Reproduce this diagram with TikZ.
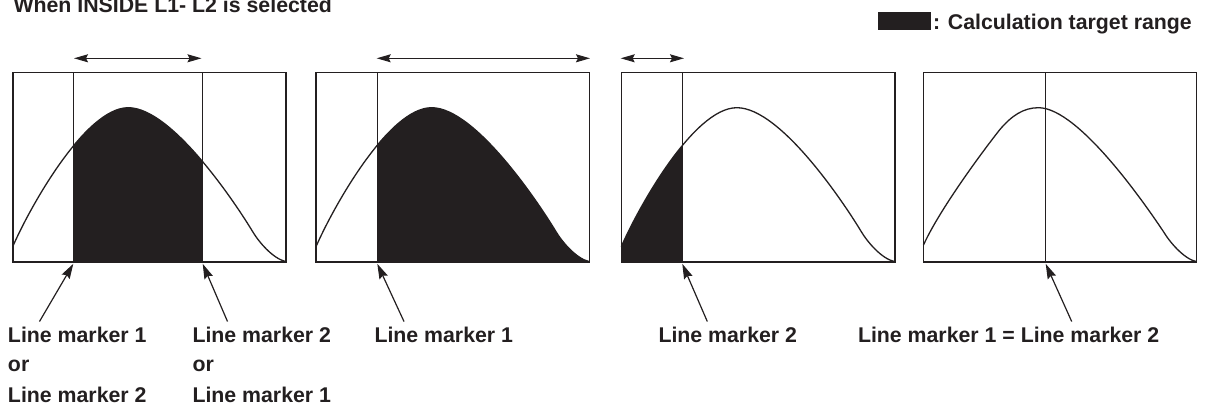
\documentclass[tikz,border=0pt]{standalone}
\usepackage{fontspec}
\setmainfont{Liberation Sans}
\usetikzlibrary{arrows.meta}
\definecolor{ink}{RGB}{35,31,32}
\begin{document}
\begin{tikzpicture}[x=1pt,y=-1pt,
  every node/.style={inner sep=0pt, outer sep=0pt, text=ink, font=\fontsize{21.3}{25}\selectfont\bfseries},
  lbl/.style={anchor=base west},
  frame/.style={draw=ink, line width=1.6pt},
  mline/.style={draw=ink, line width=1pt},
  curveline/.style={draw=ink, line width=1.3pt},
  spanarrow/.style={draw=ink, line width=1.1pt, {Stealth[length=14pt,width=8pt,inset=2pt]}-{Stealth[length=14pt,width=8pt,inset=2pt]}},
  pointer/.style={draw=ink, line width=1.2pt, -{Stealth[length=15pt,width=9pt,inset=2pt]}},
  curveA/.style={insert path={.. controls (16,52) and (72,154) .. (115.6,154) .. controls (160,154) and (225,55) .. (240,30) .. controls (246,20) and (260,3) .. (273.5,0)}},
  curveB/.style={insert path={.. controls (15,50) and (55,105) .. (76,131.7) .. controls (88,146) and (100,154) .. (115,154) .. controls (155,154) and (222,57) .. (240,30) .. controls (246,20) and (260,3) .. (273,0)}}
]
\useasboundingbox (0,0) rectangle (1208,407);

% title and legend
\node[lbl] (title) at (13.5,12.7) {When INSIDE L1- L2 is selected};
\fill[ink] (878.3,12.3) rectangle (930.7,30);
\node[lbl] (legend) at (933,29.5) {: Calculation target range};

% panel 1
\begin{scope}[shift={(12.7,261.7)}, y=1pt]
  \begin{scope}
    \clip (60.6,-1) rectangle (190,180);
    \fill[ink] (0,0) -- (0,15) [curveA] -- cycle;
  \end{scope}
  \path[curveline] (0,15) [curveA];
  \path[mline] (60.6,0) -- (60.6,189.4);
  \path[mline] (190,0) -- (190,189.4);
  \path[frame] (0,0) rectangle (273.5,189.4);
\end{scope}

% panel 2
\begin{scope}[shift={(316,261.7)}, y=1pt]
  \begin{scope}
    \clip (61.3,-1) rectangle (274,180);
    \fill[ink] (0,0) -- (0,15) [curveA] -- cycle;
  \end{scope}
  \path[curveline] (0,15) [curveA];
  \path[mline] (61.3,0) -- (61.3,189.4);
  \path[frame] (0,0) rectangle (273.5,189.4);
\end{scope}

% panel 3
\begin{scope}[shift={(621.3,261.7)}, y=1pt]
  \begin{scope}
    \clip (-1,-1) rectangle (61,180);
    \fill[ink] (0,0) -- (0,15) [curveA] -- cycle;
  \end{scope}
  \path[curveline] (0,15) [curveA];
  \path[mline] (61,0) -- (61,189.4);
  \path[frame] (0,0) rectangle (273.5,189.4);
\end{scope}

% panel 4
\begin{scope}[shift={(923.5,261.7)}, y=1pt]
  \path[curveline] (0,16.7) [curveB];
  \path[mline] (122.2,0) -- (122.2,189.4);
  \path[frame] (0,0) rectangle (273,189.4);
\end{scope}

% span arrows
\coordinate (s1a) at (74,58.3);   \coordinate (s1b) at (201.5,58.3);
\coordinate (s2a) at (376.7,58.3); \coordinate (s2b) at (590,58.3);
\coordinate (s3a) at (620.7,58.3); \coordinate (s3b) at (684,58.3);
\draw[spanarrow] (s1a) -- (s1b);
\draw[spanarrow] (s2a) -- (s2b);
\draw[spanarrow] (s3a) -- (s3b);

% pointer arrows
\coordinate (p1t) at (39.5,321.5);  \coordinate (p1h) at (73.3,263.8);
\coordinate (p2t) at (227.5,321.5); \coordinate (p2h) at (202.7,263.8);
\coordinate (p3t) at (404,321.5);   \coordinate (p3h) at (377.3,263.8);
\coordinate (p4t) at (707.3,321.5); \coordinate (p4h) at (682.3,263.8);
\coordinate (p5t) at (1071.7,321.5);\coordinate (p5h) at (1045.7,263.8);
\draw[pointer] (p1t) -- (p1h);
\draw[pointer] (p2t) -- (p2h);
\draw[pointer] (p3t) -- (p3h);
\draw[pointer] (p4t) -- (p4h);
\draw[pointer] (p5t) -- (p5h);

% labels
\node[lbl] (l1a) at (8,342.3) {Line marker 1};
\node[lbl] (l1b) at (8,371.7) {or};
\node[lbl] (l1c) at (8,402.3) {Line marker 2};
\node[lbl] (l2a) at (192.5,342.3) {Line marker 2};
\node[lbl] (l2b) at (192.5,371.7) {or};
\node[lbl] (l2c) at (192.5,402.3) {Line marker 1};
\node[lbl] (l3) at (374.5,342.3) {Line marker 1};
\node[lbl] (l4) at (658.5,342.3) {Line marker 2};
\node[lbl] (l5) at (858,342.3) {Line marker 1 = Line marker 2};
\end{tikzpicture}
\end{document}
